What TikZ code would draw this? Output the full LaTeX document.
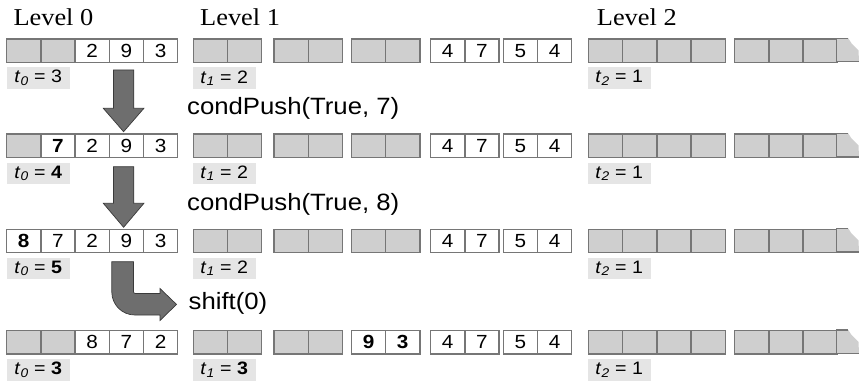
\documentclass[tikz,border=0pt]{standalone}
\usepackage{fontspec}
\setmainfont{Liberation Serif}[FakeStretch=1.09]
\setsansfont{Liberation Sans}[FakeStretch=1.09]
\definecolor{cellgray}{HTML}{CFCFCF}
\definecolor{cellline}{HTML}{767676}
\definecolor{labelgray}{HTML}{E5E5E5}
\definecolor{arrowfill}{HTML}{6E6E6E}
\definecolor{arrowline}{HTML}{3A3A3A}
\tikzset{
  cellbase/.style={draw=cellline, line width=1.3pt, minimum width=34.2pt, minimum height=23.4pt,
    inner sep=0pt, anchor=north west, font=\sffamily\fontsize{19}{22}\selectfont},
  gcell/.style={cellbase, fill=cellgray},
  wcell/.style={cellbase, fill=white},
  lbl/.style={fill=labelgray, minimum width=62.6pt, minimum height=21.6pt, inner sep=0pt,
    anchor=north west, font=\sffamily\fontsize{18}{21}\selectfont},
  lvl/.style={anchor=base west, inner sep=0pt, font=\rmfamily\fontsize{24.2}{29}\selectfont},
  op/.style={anchor=base west, inner sep=0pt, font=\sffamily\fontsize{23.6}{28}\selectfont},
  blockarrow/.style={fill=arrowfill, draw=arrowline, line width=0.7pt, line join=miter}
}
\newcommand{\tsub}[1]{\textit{t}\textsubscript{\itshape #1}}
\newcommand{\levelrow}[6]{%
  \foreach \s/\t [count=\i from 0] in {#3}
    {\node[\s] (#1a\i) at ({6+\i*34.2},#2) {\t};}
  \foreach \s/\t [count=\i from 0] in {#4}
    {\pgfmathsetmacro{\cx}{{192.6,273.4,350.8,430.0,502.6}[int(\i/2)]+mod(\i,2)*34.2}
     \node[\s] (#1b\i) at (\cx,#2) {\t};}
  \foreach \cx [count=\i from 0] in {587.7,621.95,656.2,690.45,734,768.25,802.5}
    {\node[gcell] (#1c\i) at (\cx,#2) {};}
  \fill[cellgray] (836.75,#2) -- (848.3,#2) -- (851.5,{#2+5}) -- (858.5,{#2+12}) -- (859,{#2+23.4}) -- (836.75,{#2+23.4}) -- cycle;
  \draw[cellline, line width=1.3pt] (848.3,#2) -- (836.75,#2) -- (836.75,{#2+23.4}) -- (859,{#2+23.4});
  \node[lbl] (#1t0) at (6.7,{#2+28.8}) {\tsub{0} = #5};
  \node[lbl] (#1t1) at (192.7,{#2+28.8}) {\tsub{1} = #6};
  \node[lbl] (#1t2) at (587.7,{#2+28.8}) {\tsub{2} = 1};
}
\newcommand{\blockdown}[3]{%
  \filldraw[blockarrow] (113.4,#1) -- (113.4,#2) -- (103.3,#2) -- (123.6,#3) -- (143.9,#2)
    -- (133.8,#2) -- (133.8,#1) -- cycle;}
\begin{document}
\begin{tikzpicture}[x=1pt,y=-1pt]
\useasboundingbox (0,0) rectangle (859,385);
\node[lvl] (lvl0) at (13.3,26) {Level 0};
\node[lvl] (lvl1) at (200,26) {Level 1};
\node[lvl] (lvl2) at (596.7,26) {Level 2};

\levelrow{r1}{38.3}{gcell/{},gcell/{},wcell/2,wcell/9,wcell/3}
  {gcell/{},gcell/{},gcell/{},gcell/{},gcell/{},gcell/{},wcell/4,wcell/7,wcell/5,wcell/4}{3}{2}
\levelrow{r2}{133.5}{gcell/{},wcell/{\textbf{7}},wcell/2,wcell/9,wcell/3}
  {gcell/{},gcell/{},gcell/{},gcell/{},gcell/{},gcell/{},wcell/4,wcell/7,wcell/5,wcell/4}{\textbf{4}}{2}
\levelrow{r3}{228.5}{wcell/{\textbf{8}},wcell/7,wcell/2,wcell/9,wcell/3}
  {gcell/{},gcell/{},gcell/{},gcell/{},gcell/{},gcell/{},wcell/4,wcell/7,wcell/5,wcell/4}{\textbf{5}}{2}
\levelrow{r4}{330}{gcell/{},gcell/{},wcell/8,wcell/7,wcell/2}
  {gcell/{},gcell/{},gcell/{},gcell/{},wcell/{\textbf{9}},wcell/{\textbf{3}},wcell/4,wcell/7,wcell/5,wcell/4}{\textbf{3}}{\textbf{3}}

\blockdown{70}{108.3}{131.7}
\blockdown{166.7}{203.3}{227.3}
\filldraw[blockarrow] (111.8,261.7) -- (111.8,292) .. controls (111.8,304.7) and (122.1,315) .. (134.8,315)
  -- (160,315) -- (160,320.5) -- (176.5,304.4) -- (160,288.5) -- (160,293.5) -- (135.3,293.5)
  .. controls (134.2,293.5) and (133.4,292.6) .. (133.4,291.5) -- (133.4,261.7) -- cycle;

\node[op] (op1) at (187,115) {condPush(True, 7)};
\node[op] (op2) at (187,210) {condPush(True, 8)};
\node[op] (op3) at (188.5,309.5) {shift(0)};
\end{tikzpicture}
\end{document}
